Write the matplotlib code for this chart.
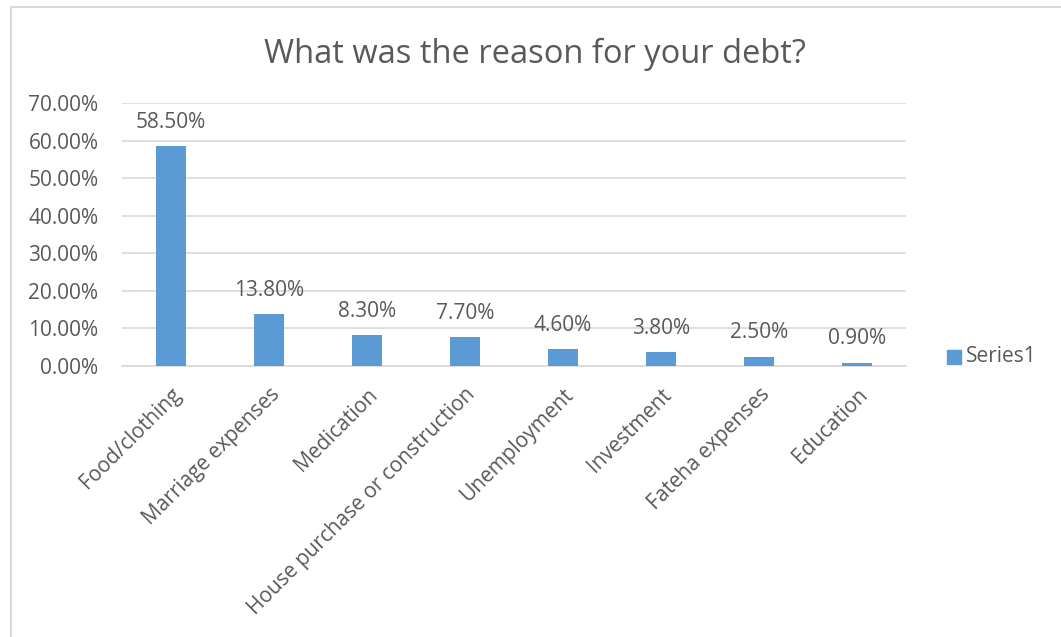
import matplotlib
matplotlib.use("Agg")
import matplotlib.pyplot as plt
from matplotlib.lines import Line2D
from matplotlib.patches import Rectangle

# debt reasons and the share of answers for each
categories = ["Food/clothing", "Marriage expenses", "Medication",
              "House purchase or construction", "Unemployment",
              "Investment", "Fateha expenses", "Education"]
shares = [58.5, 13.8, 8.3, 7.7, 4.6, 3.8, 2.5, 0.9]
yticks = [0, 10, 20, 30, 40, 50, 60, 70]

bar_colour = "#5b9bd5"
text_colour = "#595959"
grid_colour = "#d9d9d9"
fs = 15

plt.rcParams["font.family"] = ["Open Sans", "DejaVu Sans"]

fig = plt.figure(figsize=(10.61, 6.37), dpi=100)
W, H = 1061, 637

# chart frame: only left and top edges fall inside the image
fig.lines.append(Line2D([10.5 / W, 10.5 / W, 1.0], [0.0, 1 - 6.5 / H, 1 - 6.5 / H],
                        transform=fig.transFigure, color=grid_colour,
                        linewidth=1.5))

ax = fig.add_axes([122 / W, 1 - 366 / H, (906 - 122) / W, (366 - 103) / H])
x = range(len(categories))
ax.bar(x, shares, width=0.31, color=bar_colour, zorder=3)

for xi, v in zip(x, shares):
    ax.text(xi, v + 6.3, f"{v:.2f}%", ha="center", va="center",
            fontsize=fs, color=text_colour)

ax.set_xlim(-0.5, len(categories) - 0.5)
ax.set_ylim(0, 70)
ax.set_yticks(yticks)
ax.set_yticklabels([f"{t:.2f}%" for t in yticks])
ax.yaxis.grid(True, color=grid_colour, linewidth=1.2, zorder=0)
ax.set_axisbelow(True)
for side in ["top", "right", "left"]:
    ax.spines[side].set_visible(False)
ax.spines["bottom"].set_color(grid_colour)
ax.spines["bottom"].set_linewidth(1.2)
ax.tick_params(axis="both", length=0, labelsize=fs, colors=text_colour)
ax.tick_params(axis="y", pad=17)

ax.set_xticks(list(x))
ax.set_xticklabels(categories, rotation=45, ha="right",
                   rotation_mode="anchor")
ax.tick_params(axis="x", pad=13)

fig.text(535 / W, 1 - 54 / H, "What was the reason for your debt?",
         ha="center", va="center", fontsize=23.5, color=text_colour)

# legend
fig.patches.append(Rectangle((947 / W, 1 - 364 / H), 14 / W, 14 / H,
                             transform=fig.transFigure, color=bar_colour))
fig.text(966 / W, 1 - 357 / H, "Series1", ha="left", va="center",
         fontsize=fs, color=text_colour)

fig.savefig("out.png", dpi=100)
